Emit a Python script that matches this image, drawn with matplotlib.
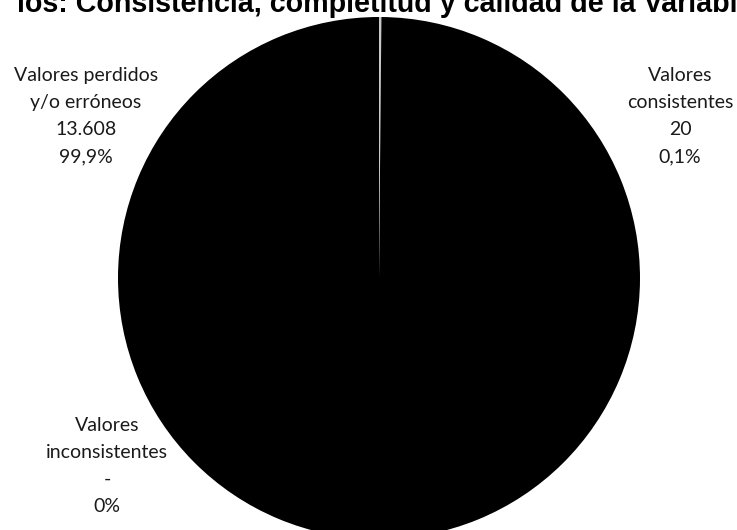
import matplotlib
matplotlib.use("Agg")
import matplotlib.pyplot as plt

# data
labels = ["Valores\nconsistentes", "Valores\ninconsistentes", "Valores perdidos\ny/o erróneos"]
counts = [20, 0, 13608]
count_text = ["20", "-", "13.608"]
pct_text = ["0,1%", "0%", "99,9%"]
colors = ["#c8c8c8", "#000000", "#000000"]

W, H = 737, 530
fig = plt.figure(figsize=(W / 100, H / 100), dpi=100)

# pie area: center (379, 278) px, radius 261 px
cx, cy, r = 379, 278, 261
ax = fig.add_axes([(cx - r) / W, (H - cy - r) / H, 2 * r / W, 2 * r / H])
ax.pie(counts, colors=colors, startangle=90, counterclock=False,
       wedgeprops=dict(linewidth=0))
ax.set_xlim(-1, 1)
ax.set_ylim(-1, 1)
ax.set_aspect("equal")
ax.axis("off")

# data labels placed like the original
label_pos = [(680, 116), (107, 466), (86, 116)]
for lab, c, p, (x, y) in zip(labels, count_text, pct_text, label_pos):
    fig.text(x / W, 1 - y / H, lab + "\n" + c + "\n" + p, ha="center", va="center",
             fontsize=14, family="Lato", linespacing=1.72, color="#1a1a1a")

# title (cut off at the top in the original)
fig.text(17 / W, 1 - 12 / H, "ios: Consistencia, completitud y calidad de la Variable",
         ha="left", va="baseline", fontsize=20.6, fontweight="bold",
         family="Liberation Sans")

fig.savefig("out.png", dpi=100)
